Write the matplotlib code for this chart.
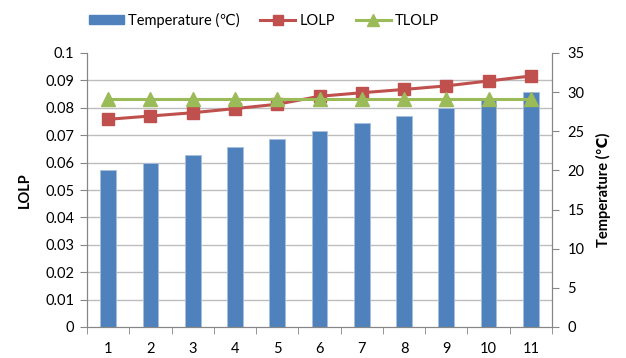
import numpy as np
import matplotlib
matplotlib.use('Agg')
import matplotlib.pyplot as plt
from matplotlib.lines import Line2D
from matplotlib.patches import Patch

plt.rcParams['font.family'] = ['Lato', 'DejaVu Sans']

cases = [1, 2, 3, 4, 5, 6, 7, 8, 9, 10, 11]
temperature = [20, 21, 22, 23, 24, 25, 26, 27, 28, 29, 30]
lolp = [0.0758, 0.0770, 0.0782, 0.0797, 0.0813, 0.0842, 0.0855, 0.0867, 0.0880, 0.0898, 0.0916]
tlolp = [0.0833] * 11
lolp_ticks = [0, 0.01, 0.02, 0.03, 0.04, 0.05, 0.06, 0.07, 0.08, 0.09, 0.1]
lolp_labels = ['0', '0.01', '0.02', '0.03', '0.04', '0.05', '0.06', '0.07', '0.08', '0.09', '0.1']
temp_ticks = [0, 5, 10, 15, 20, 25, 30, 35]

blue, red, green = '#4F81BD', '#C0504D', '#9BBB59'
axis_gray = '#868686'

fig = plt.figure(figsize=(6.26, 3.58), dpi=100)
ax = fig.add_axes([87/626, 31/358, 465/626, 274/358])
ax2 = ax.twinx()
ax.set_zorder(2)
ax.patch.set_visible(False)

# temperature bars on the right-hand scale, behind the LOLP lines
x = np.array(cases)
ax2.bar(x, temperature, width=0.37, color=blue, edgecolor='#a7c0de', linewidth=0.6, zorder=2)
ax2.set_ylim(0, 35)
ax2.set_yticks(temp_ticks)
ax2.set_yticks(np.linspace(0, 35, 11), minor=True)
ax2.grid(True, which='minor', axis='y', color='#bdbdbd', linewidth=1.0, zorder=0)
ax2.set_axisbelow(True)
ax2.tick_params(axis='y', which='major', length=5, color=axis_gray, labelsize=10.5, pad=6)
ax2.tick_params(axis='y', which='minor', length=0)
ax2.set_ylabel('Temperature (℃)', fontsize=10.5, fontweight='bold', labelpad=8)

ax.plot(x, lolp, color=red, linewidth=2.2, marker='s', markersize=9, label='LOLP', zorder=3)
ax.plot(x, tlolp, color=green, linewidth=2.2, marker='^', markersize=10, label='TLOLP', zorder=4)
ax.set_ylim(0, 0.1)
ax.set_yticks(lolp_ticks)
ax.set_yticklabels(lolp_labels)
ax.tick_params(axis='y', length=5, color=axis_gray, labelsize=10.5, pad=4)
ax.set_ylabel('LOLP', fontsize=10.5, fontweight='bold', labelpad=10)

ax.set_xlim(0.5, 11.5)
ax.set_xticks(x)
ax.set_xticklabels([str(c) for c in cases])
ax.set_xticks(np.arange(0.5, 12, 1), minor=True)
ax.tick_params(axis='x', which='major', length=0, labelsize=10.5, pad=11)
ax.tick_params(axis='x', which='minor', length=5, color=axis_gray)

for a in (ax, ax2):
    a.spines['top'].set_visible(False)
    for s in ('left', 'right', 'bottom'):
        a.spines[s].set_color(axis_gray)

handles = [Patch(facecolor=blue, edgecolor=blue),
           Line2D([0], [0], color=red, linewidth=2.2, marker='s', markersize=7),
           Line2D([0], [0], color=green, linewidth=2.2, marker='^', markersize=8)]
fig.legend(handles, ['Temperature (℃)', 'LOLP', 'TLOLP'], loc='center',
           bbox_to_anchor=(264/626, 1 - 20/358), ncol=3, frameon=False,
           fontsize=10.5, handlelength=2.4, handleheight=0.6, handletextpad=0.3,
           columnspacing=1.4)

fig.savefig('out.png', dpi=100)
